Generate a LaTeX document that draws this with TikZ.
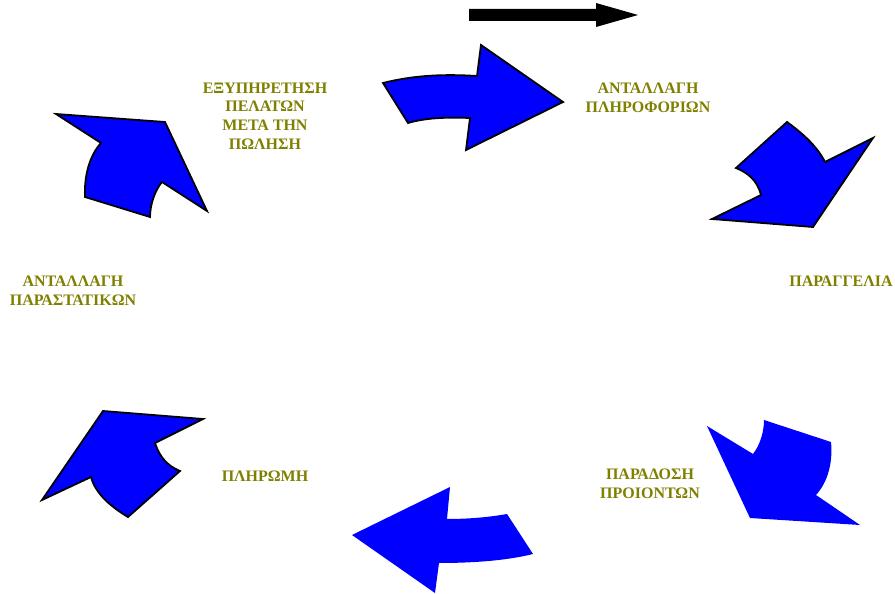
\documentclass[tikz,border=0pt]{standalone}
\usepackage{fontspec}
\setmainfont{Liberation Serif}
\definecolor{lbl}{RGB}{128,128,0}
\definecolor{arrblue}{RGB}{0,0,255}
\begin{document}
\begin{tikzpicture}[x=1pt,y=-1pt,
  lab/.style={text=lbl,font=\bfseries\fontsize{16}{18.6}\selectfont,align=center,inner sep=0pt},
  bigarrow/.style={fill=arrblue,draw=black,line width=1.8pt,line join=miter},
  flatarrow/.style={fill=arrblue,draw=none}]
\useasboundingbox (0,0) rectangle (895,594);
% top black arrow
\fill[black] (469,9) -- (596,9) -- (596,3) -- (638,15) -- (596,27) -- (596,21) -- (469,21) -- cycle;
% arrow 1 (top, right)
\draw[bigarrow] (383,83) .. controls (415,75) and (445,74) .. (477,76) -- (481,45) -- (563,102) -- (466,150) -- (470,118) .. controls (445,117) and (425,118) .. (408,123) -- cycle;
% arrow 2 (top right)
\draw[bigarrow] (787,122) .. controls (805,135) and (818,148) .. (825,162) -- (873,138) -- (813,227) -- (712,219) -- (761,195) .. controls (757,180) and (748,173) .. (736,168) -- cycle;
% arrow 3 (bottom right)
\path[flatarrow] (707,426) -- (753,454) .. controls (760,445) and (764,432) .. (764,420) -- (831,442) .. controls (833,462) and (828,482) .. (816,495) -- (860,525) -- (750,518) -- cycle;
% arrow 4 (bottom, left)
\path[flatarrow] (450,487) -- (352,535) -- (435,593) -- (439,563) .. controls (470,563) and (505,561) .. (533,554) -- (507,514) .. controls (490,517) and (470,519) .. (447,519) -- cycle;
% arrow 5 (bottom left)
\draw[bigarrow] (103,411) -- (203,419) -- (155,443) .. controls (160,458) and (168,466) .. (180,471) -- (128,517) .. controls (108,505) and (95,492) .. (91,477) -- (42,500) -- cycle;
% arrow 6 (top left)
\draw[bigarrow] (56,114) -- (165,122) -- (207,211) -- (162,182) .. controls (155,190) and (150,205) .. (150,217) -- (85,197) .. controls (84,175) and (90,155) .. (101,143) -- cycle;
% labels
\node[lab] (service) at (265,116) {ΕΞΥΠΗΡΕΤΗΣΗ\\ΠΕΛΑΤΩΝ\\ΜΕΤΑ ΤΗΝ\\ΠΩΛΗΣΗ};
\node[lab] (info) at (648,97.5) {ΑΝΤΑΛΛΑΓΗ\\ΠΛΗΡΟΦΟΡΙΩΝ};
\node[lab] (order) at (841,281) {ΠΑΡΑΓΓΕΛΙΑ};
\node[lab] (docs) at (73,290.5) {ΑΝΤΑΛΛΑΓΗ\\ΠΑΡΑΣΤΑΤΙΚΩΝ};
\node[lab] (pay) at (265,476) {ΠΛΗΡΩΜΗ};
\node[lab] (deliv) at (650,484) {ΠΑΡΑΔΟΣΗ\\ΠΡΟΙΟΝΤΩΝ};
\end{tikzpicture}
\end{document}
